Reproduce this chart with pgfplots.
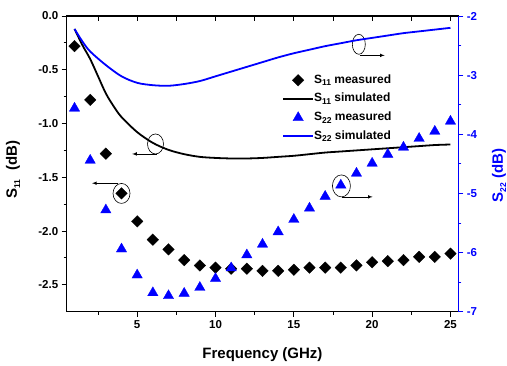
\documentclass[border=0pt]{standalone}
\usepackage{pgfplots}
\pgfplotsset{compat=1.18}
\usepackage{fontspec}
\setmainfont{Liberation Sans}

\definecolor{sblue}{RGB}{0,0,255}

% subscript for the S-parameter names
\newcommand\sub[1]{\raisebox{-0.4ex}{\fontsize{8.5}{9}\selectfont #1}}

\pgfplotsset{
  frame/.style={
    scale only axis, width=391.6pt, height=295.7pt,
    xmin=0.5, xmax=25.5,
    xtick={5,10,15,20,25},
    minor xtick={2.5,7.5,12.5,17.5,22.5},
    major tick length=5pt, minor tick length=3pt,
    tick label style={font=\bfseries\fontsize{11.5}{13}\selectfont},
    label style={font=\bfseries\fontsize{15}{17}\selectfont},
  },
  diam/.style={only marks, mark=square*, mark size=4.1pt,
    mark options={rotate=45, solid, line width=0.3pt}, black},
  tri/.style={only marks, mark=triangle*, mark size=6pt,
    mark options={solid, line width=0.3pt}, sblue},
  legend image code/.code={%
    \draw[mark repeat=2, mark phase=2, #1]
      plot coordinates {(0pt,0pt) (15pt,0pt) (30pt,0pt)};},
}

% S11 (left axis, dB)
\pgfplotstableread{
f    meas
1   -0.28
2   -0.78
3   -1.28
4   -1.65
5   -1.91
6   -2.08
7   -2.17
8   -2.27
9   -2.32
10  -2.34
11  -2.35
12  -2.35
13  -2.37
14  -2.37
15  -2.36
16  -2.34
17  -2.34
18  -2.34
19  -2.32
20  -2.29
21  -2.28
22  -2.27
23  -2.24
24  -2.24
25  -2.21
}\sElevenMeas

\pgfplotstableread{
f    sim
1   -0.12
1.5 -0.27
2   -0.40
2.5 -0.56
3   -0.72
3.5 -0.84
4   -0.94
5   -1.08
6   -1.18
7   -1.245
8   -1.285
9   -1.31
10  -1.32
11  -1.325
12  -1.325
13  -1.32
14  -1.31
15  -1.30
16  -1.285
17  -1.27
18  -1.26
19  -1.25
20  -1.24
21  -1.23
22  -1.22
23  -1.21
24  -1.20
25  -1.195
}\sElevenSim

% S22 (right axis, dB)
\pgfplotstableread{
f    meas
1   -3.56
2   -4.44
3   -5.28
4   -5.94
5   -6.38
6   -6.68
7   -6.73
8   -6.69
9   -6.59
10  -6.44
11  -6.26
12  -6.04
13  -5.86
14  -5.65
15  -5.44
16  -5.25
17  -5.05
18  -4.86
19  -4.66
20  -4.49
21  -4.34
22  -4.22
23  -4.07
24  -3.95
25  -3.78
}\sTwoTwoMeas

\pgfplotstableread{
f    sim
1   -2.22
1.5 -2.43
2   -2.60
3   -2.83
4   -3.02
5   -3.13
6   -3.17
7   -3.18
8   -3.15
9   -3.10
10  -3.02
11  -2.94
12  -2.86
13  -2.78
14  -2.70
15  -2.63
16  -2.57
17  -2.51
18  -2.46
19  -2.41
20  -2.37
21  -2.33
22  -2.29
23  -2.26
24  -2.23
25  -2.20
}\sTwoTwoSim

\begin{document}
\begin{tikzpicture}
% left axis: S11
\begin{axis}[frame,
  ymin=-2.75, ymax=0,
  xtick pos=lower, ytick pos=left, tick align=outside,
  xticklabels={5,10,15,20,25},
  ytick={0,-0.5,-1,-1.5,-2,-2.5},
  yticklabels={0.0,-0.5,-1.0,-1.5,-2.0,-2.5},
  minor ytick={-0.25,-0.75,-1.25,-1.75,-2.25},
  axis line style={line width=1.1pt},
  every tick/.style={black, line width=0.9pt},
  xlabel={Frequency (GHz)},
  xlabel style={at={(axis description cs:0.5,-0.145)}, anchor=center},
  ylabel={S\sub{11}\hspace{0.6em}(dB)},
  ylabel style={at={(axis description cs:-0.137,0.48)}, anchor=center},
]
\addplot[diam] table[x=f, y=meas] {\sElevenMeas};
\addplot[black, line width=1.8pt, smooth] table[x=f, y=sim] {\sElevenSim};

% rings and arrows telling which axis each curve belongs to
\draw[line width=0.6pt] (axis cs:6.17,-1.19) ellipse [x radius=8pt, y radius=10pt];
\draw[line width=0.6pt, -latex] (axis cs:6.25,-1.283) -- (axis cs:4.68,-1.283);
\draw[line width=0.6pt] (axis cs:4,-1.65) ellipse [x radius=8.5pt, y radius=10pt];
\draw[line width=0.6pt, -latex] (axis cs:3.77,-1.555) -- (axis cs:2.12,-1.555);
\draw[line width=0.6pt] (axis cs:19.15,-0.263) ellipse [x radius=6.5pt, y radius=10pt];
\draw[line width=0.6pt, -latex] (axis cs:19.2,-0.366) -- (axis cs:20.8,-0.366);
\draw[line width=0.6pt] (axis cs:18.04,-1.58) ellipse [x radius=9pt, y radius=11pt];
\draw[line width=0.6pt, -latex] (axis cs:18.1,-1.682) -- (axis cs:20.03,-1.682);
\end{axis}

% top edge ticks, pointing inwards
\begin{axis}[frame,
  ymin=-2.75, ymax=0,
  xtick pos=upper, tick align=inside,
  xticklabels={}, ytick=\empty,
  axis line style={line width=1.1pt},
  every tick/.style={black, line width=0.9pt},
  minor tick length=5pt,
]
\end{axis}

% right axis: S22
\begin{axis}[frame,
  ymin=-7, ymax=-2,
  axis x line=none, axis y line*=right,
  tick align=outside,
  ytick={-2,-3,-4,-5,-6,-7},
  yticklabels={-2,-3,-4,-5,-6,-7},
  minor ytick={-2.5,-3.5,-4.5,-5.5,-6.5},
  y axis line style={sblue, line width=1.4pt, -},
  every tick/.style={sblue, line width=0.9pt},
  yticklabel style={text=sblue},
  ylabel={S\sub{22} (dB)},
  ylabel style={text=sblue, at={(axis description cs:1.104,0.46)}, anchor=center},
  legend cell align=left,
  legend style={draw=none, fill=none, at={(0.55,0.807)}, anchor=north west,
    inner sep=0pt, row sep=4.7pt,
    font=\bfseries\fontsize{12}{13}\selectfont,
    nodes={text height=10pt, text depth=4pt, inner sep=0pt},
    /tikz/every even column/.append style={column sep=2pt}},
]
\addlegendimage{diam}
\addlegendentry{S\sub{11} measured}
\addlegendimage{black, line width=1.8pt}
\addlegendentry{S\sub{11} simulated}
\addplot[tri] table[x=f, y=meas] {\sTwoTwoMeas};
\addlegendentry{S\sub{22} measured}
\addplot[sblue, line width=1.8pt, smooth] table[x=f, y=sim] {\sTwoTwoSim};
\addlegendentry{S\sub{22} simulated}
\end{axis}

\pgfresetboundingbox
\path (-66.7pt,-53.3pt) rectangle (440.3pt,311.7pt);
\end{tikzpicture}
\end{document}
